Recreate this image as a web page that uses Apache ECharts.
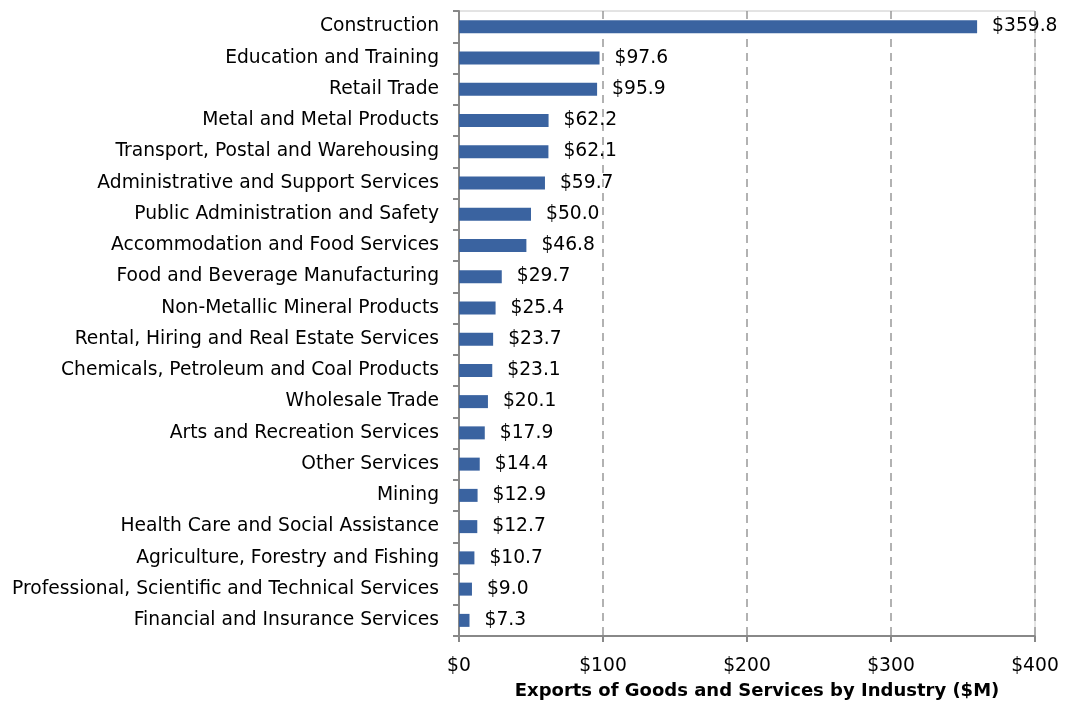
<!DOCTYPE html>
<html>
<head>
<meta charset="utf-8">
<script src="https://cdn.jsdelivr.net/npm/echarts@6/dist/echarts.min.js"></script>
<style>
  html, body { margin: 0; padding: 0; background: #fff; }
  #chart { width: 1067px; height: 706px; }
</style>
</head>
<body>
<div id="chart"></div>
<script>
  // industries, top to bottom
  const industries = [
    'Construction',
    'Education and Training',
    'Retail Trade',
    'Metal and Metal Products',
    'Transport, Postal and Warehousing',
    'Administrative and Support Services',
    'Public Administration and Safety',
    'Accommodation and Food Services',
    'Food and Beverage Manufacturing',
    'Non-Metallic Mineral Products',
    'Rental, Hiring and Real Estate Services',
    'Chemicals, Petroleum and Coal Products',
    'Wholesale Trade',
    'Arts and Recreation Services',
    'Other Services',
    'Mining',
    'Health Care and Social Assistance',
    'Agriculture, Forestry and Fishing',
    'Professional, Scientific and Technical Services',
    'Financial and Insurance Services'
  ]
  const exportsM = [359.8, 97.6, 95.9, 62.2, 62.1, 59.7, 50.0, 46.8, 29.7, 25.4,
    23.7, 23.1, 20.1, 17.9, 14.4, 12.9, 12.7, 10.7, 9.0, 7.3]
  const xTicks = [0, 100, 200, 300, 400]

  const font = 'DejaVu Sans'
  const fs = 18.7
  const chart = echarts.init(document.getElementById('chart'))
  chart.setOption({
    animation: false,
    textStyle: { fontFamily: font },
    grid: {
      left: 459,
      right: 32,
      top: 11,
      bottom: 70,
      outerBoundsMode: 'none',
      show: true,
      borderColor: '#c8c8c8',
      borderWidth: 1
    },
    xAxis: {
      type: 'value',
      min: xTicks[0],
      max: xTicks[xTicks.length - 1],
      interval: 100,
      name: 'Exports of Goods and Services by Industry ($M)',
      nameLocation: 'middle',
      nameGap: 46,
      nameTextStyle: { fontFamily: font, fontSize: 18, fontWeight: 'bold', color: '#000', padding: [0, 0, 0, 20] },
      axisLine: { show: true, lineStyle: { color: '#888', width: 2 } },
      axisTick: { show: true, length: 6, lineStyle: { color: '#888', width: 2 } },
      axisLabel: {
        fontFamily: font, fontSize: fs, color: '#000', margin: 21,
        formatter: v => '$' + v
      },
      splitLine: { show: true, lineStyle: { color: '#999', type: [8, 6], width: 1.5 } }
    },
    yAxis: {
      type: 'category',
      inverse: true,
      data: industries,
      axisLine: { show: true, lineStyle: { color: '#888', width: 2 } },
      axisTick: { show: true, length: 6, lineStyle: { color: '#888', width: 2 } },
      axisLabel: { fontFamily: font, fontSize: fs, color: '#000', margin: 20 }
    },
    series: [{
      type: 'bar',
      data: exportsM,
      barWidth: 13,
      itemStyle: { color: '#3a63a0' },
      label: {
        show: true,
        position: 'right',
        distance: 15,
        fontFamily: font,
        fontSize: fs,
        color: '#000',
        formatter: p => '$' + p.value.toFixed(1)
      }
    }]
  })
</script>
</body>
</html>
